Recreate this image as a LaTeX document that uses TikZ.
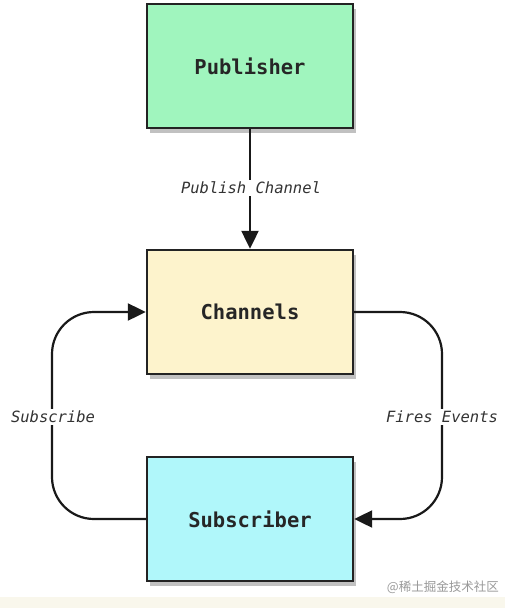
\documentclass[tikz,border=0pt]{standalone}
\usepackage{fontspec}
\setmonofont{DejaVu Sans Mono}
\newfontfamily\cjk{Noto Sans CJK SC}
\usetikzlibrary{arrows.meta,shadows,positioning}
\definecolor{pubfill}{RGB}{160,245,190}
\definecolor{chanfill}{RGB}{253,243,204}
\definecolor{subfill}{RGB}{176,247,250}
\definecolor{edgecol}{RGB}{35,35,35}
\definecolor{creamstrip}{RGB}{249,247,236}
\tikzset{
  boxnode/.style={draw=edgecol, line width=2.4pt, minimum width=206pt, minimum height=124pt,
    inner sep=0pt, font=\ttfamily\bfseries\fontsize{20.5}{24}\selectfont, text=black!85,
    drop shadow={shadow xshift=3pt, shadow yshift=-5pt, opacity=0.4, fill=black!60}},
  conn/.style={draw=black!90, line width=2.2pt, -{Triangle[length=18pt,width=17pt]}},
  lbl/.style={fill=white, inner sep=2pt, font=\ttfamily\itshape\fontsize{15.5}{18}\selectfont, text=black!80},
}
\begin{document}
\begin{tikzpicture}[x=1pt,y=-1pt]
\useasboundingbox (0,0) rectangle (515,608);
\fill[white] (0,0) rectangle (515,608);
\fill[creamstrip] (0,597) rectangle (505,608);
\node[boxnode, fill=pubfill] (pub) at (250,66) {Publisher};
\node[boxnode, fill=chanfill] (chan) at (250,312) {Channels};
\node[boxnode, fill=subfill] (sub) at (250,519) {Subscriber};
\coordinate (lx) at (52,417);
\coordinate (rx) at (442,417);
\draw[conn] (pub.south) -- (chan.north);
\draw[conn, rounded corners=42pt] (sub.west) -| (lx) |- (chan.west);
\draw[conn, rounded corners=42pt] (chan.east) -| (rx) |- (sub.east);
\node[lbl] (lpub) at (251,188) {Publish Channel};
\node[lbl] (lsub) at (53,417) {Subscribe};
\node[lbl] (lfire) at (442,417) {Fires Events};
\node[font=\cjk\fontsize{12.5}{14}\selectfont, text=black!40, anchor=east, inner sep=0pt] (wm) at (499,587) {@稀土掘金技术社区};
\end{tikzpicture}
\end{document}
